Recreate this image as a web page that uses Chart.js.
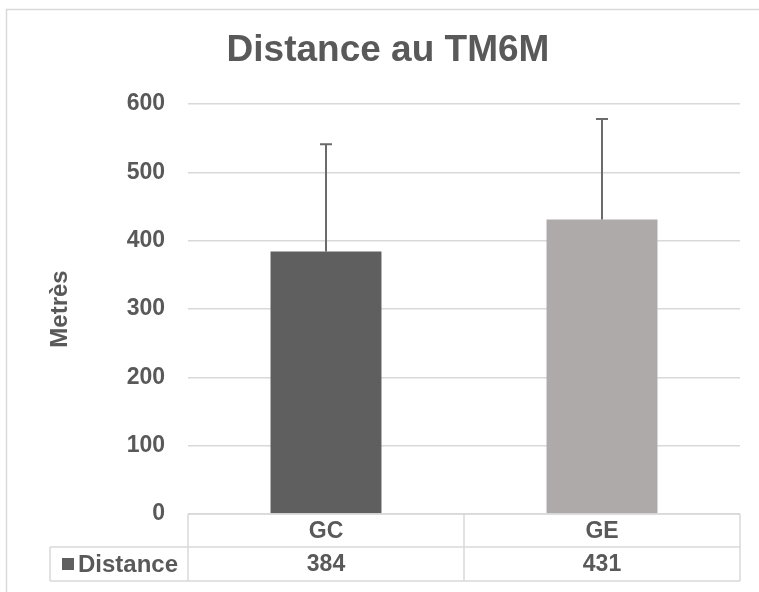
<!DOCTYPE html>
<html>
<head>
<meta charset="utf-8">
<script src="https://cdn.jsdelivr.net/npm/chart.js@4"></script>
<style>
  body { margin: 0; background: #fff; }
  #wrap { width: 759px; height: 592px; position: relative; }
</style>
</head>
<body>
<div id="wrap"><canvas id="tmChart" width="759" height="592"></canvas></div>
<script>
// données
const groupes = ['GC', 'GE'];
const distance = [384, 431];
const ecartType = [157, 147];
const serieNom = 'Distance';
const titre = 'Distance au TM6M';
const axeTitre = 'Metrès';

const couleurs = ['#5f5f5f', '#aeaaaa'];
const gris = '#595959';
const ligne = '#d9d9d9';
const police = '"Liberation Sans", Arial, sans-serif';

const extras = {
    id: 'extras',
    beforeDraw(chart) {
        const c = chart.ctx;
        c.save();
        c.strokeStyle = ligne;
        c.lineWidth = 1.5;
        c.strokeRect(6.5, 9.5, 800, 620);
        c.fillStyle = gris;
        c.font = 'bold 37px ' + police;
        c.textAlign = 'center';
        c.textBaseline = 'middle';
        c.fillText(titre, 388, 51);
        c.restore();
    },
    afterDatasetsDraw(chart) {
        const c = chart.ctx;
        const xs = chart.scales.x, ys = chart.scales.y;
        const area = chart.chartArea;
        c.save();
        // barres d'erreur (plus seulement)
        c.strokeStyle = '#6b6b6b';
        c.lineWidth = 2;
        distance.forEach((v, i) => {
            const x = xs.getPixelForValue(i);
            const y0 = ys.getPixelForValue(v);
            const y1 = ys.getPixelForValue(v + ecartType[i]);
            c.beginPath();
            c.moveTo(x, y0); c.lineTo(x, y1);
            c.moveTo(x - 6, y1); c.lineTo(x + 6, y1);
            c.stroke();
        });
        // tableau de données
        const top = area.bottom, mid = top + 33, bot = mid + 34;
        const bords = [area.left];
        for (let i = 0; i < groupes.length - 1; i++) {
            bords.push((xs.getPixelForValue(i) + xs.getPixelForValue(i + 1)) / 2);
        }
        bords.push(area.right);
        const gauche = 50;
        c.strokeStyle = ligne;
        c.lineWidth = 1.5;
        c.beginPath();
        c.moveTo(area.left, top); c.lineTo(area.right, top);
        c.moveTo(gauche, mid); c.lineTo(area.right, mid);
        c.moveTo(gauche, bot); c.lineTo(area.right, bot);
        bords.forEach(b => { c.moveTo(b, top); c.lineTo(b, bot); });
        c.moveTo(gauche, mid); c.lineTo(gauche, bot);
        c.stroke();

        c.fillStyle = gris;
        c.font = 'bold 23px ' + police;
        c.textAlign = 'center';
        c.textBaseline = 'middle';
        groupes.forEach((g, i) => {
            const x = xs.getPixelForValue(i);
            c.fillText(g, x, (top + mid) / 2 + 1);
            c.fillText(String(distance[i]), x, (mid + bot) / 2 + 1);
        });
        c.fillStyle = couleurs[0];
        c.fillRect(62, (mid + bot) / 2 - 6, 12, 12);
        c.fillStyle = gris;
        c.textAlign = 'left';
        c.font = 'bold 24px ' + police;
        c.fillText(serieNom, 78, (mid + bot) / 2 + 1);
        c.restore();
    }
};

new Chart(document.getElementById('tmChart'), {
    type: 'bar',
    data: {
        labels: groupes,
        datasets: [{
            label: serieNom,
            data: distance,
            backgroundColor: couleurs,
            categoryPercentage: 1,
            barPercentage: 0.402
        }]
    },
    options: {
        responsive: false,
        animation: false,
        layout: { padding: { top: 104, bottom: 78, left: 0, right: 19 } },
        plugins: { legend: { display: false }, tooltip: { enabled: false } },
        scales: {
            x: { display: false },
            y: {
                min: 0, max: 600,
                afterFit(s) { s.width = 188; },
                ticks: { stepSize: 100, padding: 23, color: gris, font: { family: police, size: 23, weight: 'bold' } },
                grid: { color: ligne, lineWidth: 1.5, drawTicks: false },
                border: { display: false },
                title: {
                    display: true, text: axeTitre, color: gris,
                    font: { family: police, size: 24, weight: 'bold' },
                    padding: { top: 46, bottom: 0 }
                }
            }
        }
    },
    plugins: [extras]
});
</script>
</body>
</html>
